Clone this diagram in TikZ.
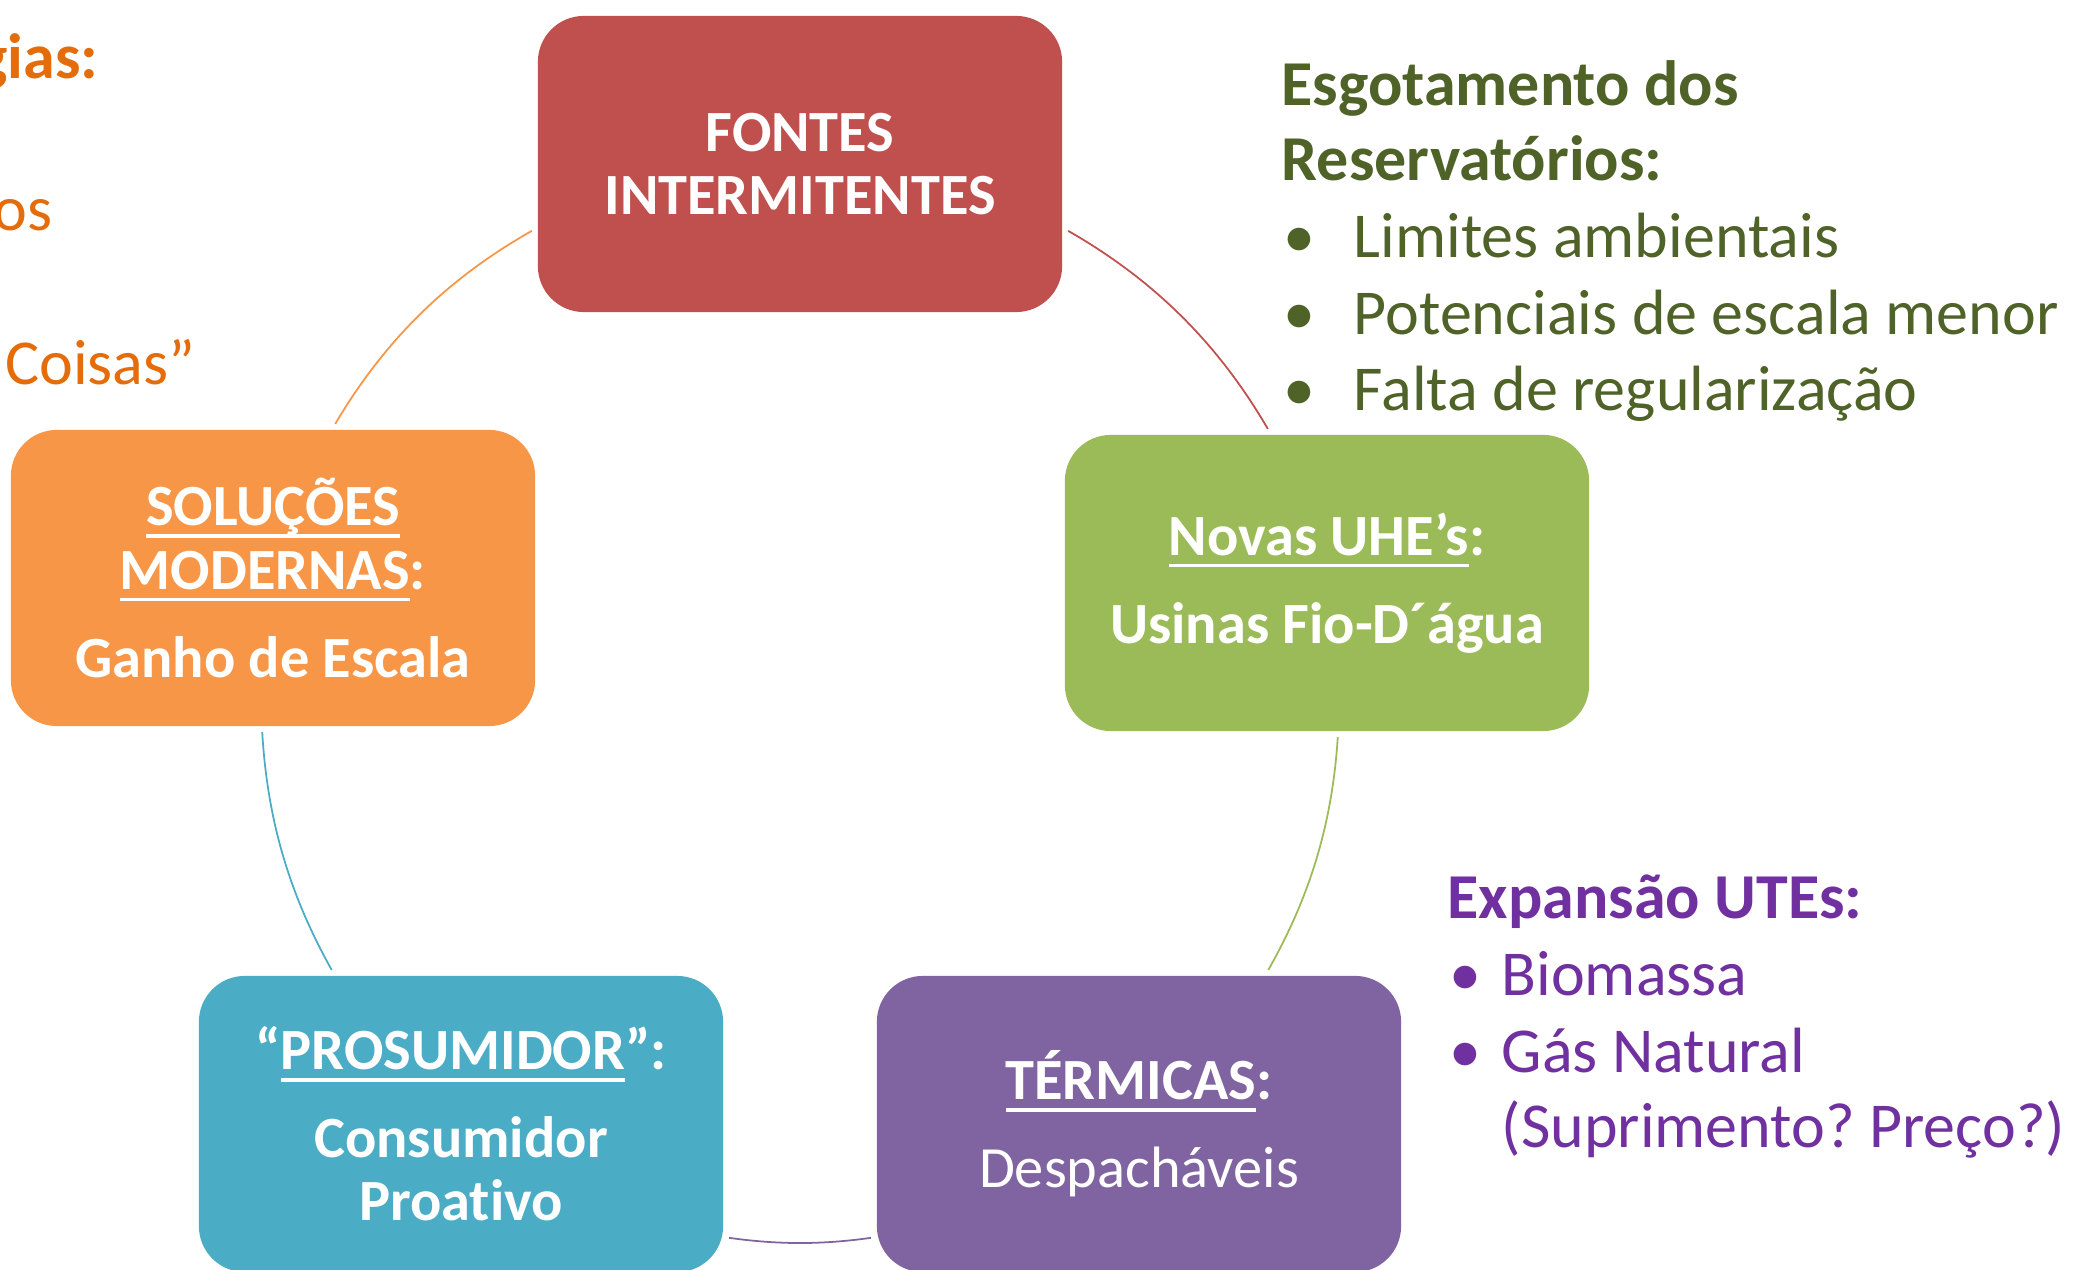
\documentclass[tikz,border=0pt]{standalone}
\usepackage{fontspec}
\setmainfont{Carlito}[Ligatures=CommonOff]
\usepackage{tikz}
\frenchspacing

\definecolor{fontesred}{HTML}{C0504D}
\definecolor{uhegreen}{HTML}{9BBB59}
\definecolor{termpurple}{HTML}{8064A2}
\definecolor{prosblue}{HTML}{4BACC6}
\definecolor{solorange}{HTML}{F79646}
\definecolor{esgtext}{HTML}{4F6228}
\definecolor{utetext}{HTML}{7030A0}
\definecolor{tectext}{HTML}{E46C0A}
\newcommand{\boxul}[1]{\setbox0\hbox{#1}\rlap{\rule[-3.4pt]{\wd0}{1pt}}\box0}

\begin{document}
\begin{tikzpicture}[x=0.01cm, y=-0.01cm,
  stage/.style={rectangle, rounded corners=0.46cm, minimum width=5.24cm, minimum height=2.96cm,
    inner sep=0pt, outer sep=0.06cm, text=white, align=center, font=\fontsize{16.6}{18}\selectfont\bfseries},
  cyc/.style={line width=0.5pt, bend left=#1, looseness=0.9},
  note/.style={anchor=base west, inner sep=0pt, font=\fontsize{18.2}{21.8}\selectfont}]
  \useasboundingbox (0,0) rectangle (2074,1270);
  \clip (0,0) rectangle (2074,1270);
  % the five stages of the cycle
  \node[stage, fill=fontesred] (fontes) at (800,164) {FONTES\\INTERMITENTES};
  \node[stage, fill=uhegreen] (novas) at (1327,583) {\boxul{Novas UHE’s}:\\[7pt]Usinas Fio-D´água};
  \node[stage, fill=termpurple] (termicas) at (1139,1124) {\boxul{TÉRMICAS}:\\[7pt]\mdseries Despacháveis};
  \node[stage, fill=prosblue] (prosumidor) at (461,1124) {“\boxul{PROSUMIDOR}”:\\[7pt]Consumidor\\Proativo};
  \node[stage, fill=solorange] (solucoes) at (273,578) {\boxul{SOLUÇÕES}\\\boxul{MODERNAS}:\\[7pt]Ganho de Escala};
  % arcs of the ring
  \draw[cyc=15, fontesred] (fontes.-14) to (novas.111);
  \draw[cyc=13, uhegreen] (novas.-86) to (termicas.50);
  \draw[cyc=8, termpurple] (termicas.203) to (prosumidor.-23);
  \draw[cyc=13, prosblue] (prosumidor.130) to (solucoes.-94);
  \draw[cyc=15, solorange] (solucoes.68) to (fontes.194);
  % notes
  \node[note, text=esgtext] (esg1) at (1281,106) {\bfseries Esgotamento dos};
  \node[note, text=esgtext] (esg2) at (1281,181) {\bfseries Reservatórios:};
  \node[note, text=esgtext] (esg3) at (1283,258) {\makebox[0.70cm][l]{•}Limites ambientais};
  \node[note, text=esgtext] (esg4) at (1283,335) {\makebox[0.70cm][l]{•}Potenciais de escala menor};
  \node[note, text=esgtext] (esg5) at (1283,411) {\makebox[0.70cm][l]{•}Falta de regularização};
  \node[note, text=utetext] (ute1) at (1447,919) {\bfseries Expansão UTEs:};
  \node[note, text=utetext] (ute2) at (1449,996) {\makebox[0.52cm][l]{•}Biomassa};
  \node[note, text=utetext] (ute3) at (1449,1073) {\makebox[0.52cm][l]{•}Gás Natural};
  \node[note, text=utetext] (ute4) at (1501,1148) {(Suprimento? Preço?)};
  \node[note, anchor=base east, text=tectext] (tec1) at (99,79) {\bfseries gias:};
  \node[note, anchor=base east, text=tectext] (tec2) at (53,231) {os};
  \node[note, anchor=base east, text=tectext] (tec3) at (196,385) {Coisas”};
\end{tikzpicture}
\end{document}
